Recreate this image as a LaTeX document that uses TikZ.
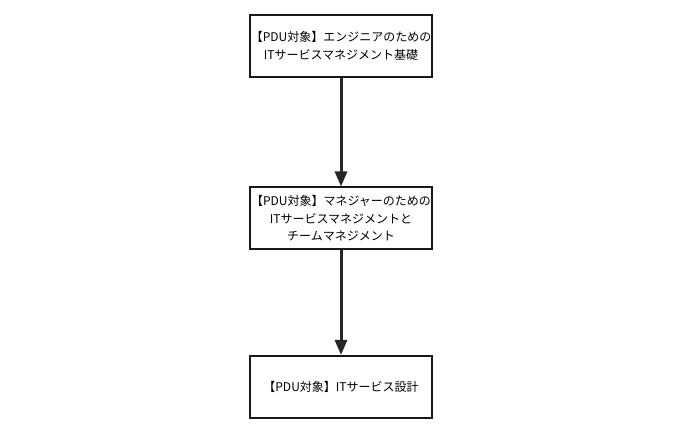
\documentclass[tikz,border=0pt]{standalone}
\usepackage{fontspec}
\setmainfont{Noto Sans CJK JP}
\usetikzlibrary{arrows.meta}
\begin{document}
\begin{tikzpicture}[x=1pt,y=-1pt,
  box/.style={draw=black!90,line width=2pt,minimum width=182pt,minimum height=62pt,
    align=center,inner sep=1pt,font=\fontsize{12pt}{17.5pt}\selectfont},
  conn/.style={draw=black!85,line width=3pt,-{Triangle[length=15pt,width=12pt]}}]
\useasboundingbox (0,0) rectangle (680,435);
\node[box] (a) at (341,46) {【PDU対象】エンジニアのための\\ITサービスマネジメント基礎};
\node[box] (b) at (341,218.5) {【PDU対象】マネジャーのための\\ITサービスマネジメントと\\チームマネジメント};
\node[box] (c) at (341,387) {【PDU対象】ITサービス設計};
\draw[conn] (a) -- (b);
\draw[conn] (b) -- (c);
\end{tikzpicture}
\end{document}
